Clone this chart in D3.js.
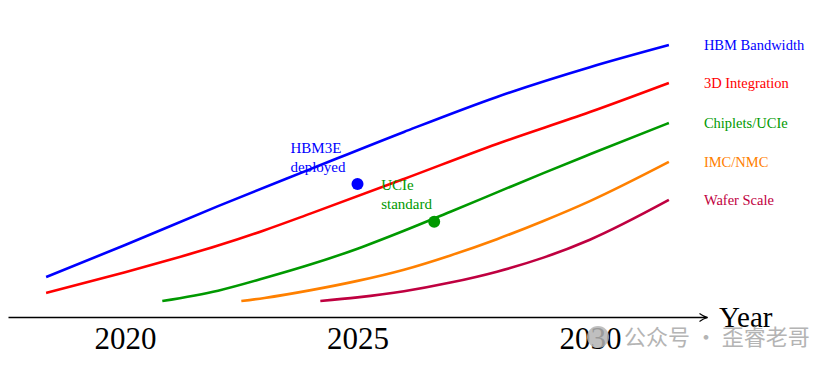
<!DOCTYPE html>
<html><head><meta charset="utf-8">
<script src="https://cdn.jsdelivr.net/npm/d3@7"></script>
<style>body{margin:0;background:#fff}svg{display:block}</style>
</head><body><svg id="c" width="840" height="371"></svg>
<script>
const tickYears = [2020, 2025, 2030];
const seriesNames = ["HBM Bandwidth", "3D Integration", "Chiplets/UCIe", "IMC/NMC", "Wafer Scale"];
const seriesColors = ["#0000ff", "#ff0000", "#009900", "#ff8000", "#bf0040"];
const hbmYears = [2018.3, 2020, 2022, 2024, 2026, 2028, 2030, 2031.7];
const hbmValues = [14.3, 25.7, 39.6, 52.9, 66.1, 78.6, 89.2, 97.1];
const d3iYears = [2018.3, 2020, 2021, 2022, 2023, 2024, 2026, 2028, 2030, 2031.7];
const d3iValues = [8.6, 16.0, 20.6, 25.5, 31.0, 37.0, 49.3, 61.8, 73.2, 83.6];
const chipYears = [2020.8, 2022, 2023, 2024, 2025, 2026, 2027, 2028, 2029, 2030, 2031.7];
const chipValues = [5.7, 9.4, 13.9, 18.8, 24.4, 30.8, 37.6, 44.5, 51.4, 58.1, 69.3];
const imcYears = [2022.5, 2023, 2024, 2025, 2026, 2027, 2028, 2029, 2030, 2031.7];
const imcValues = [5.7, 6.8, 9.6, 12.9, 16.9, 22.0, 27.8, 34.3, 41.4, 55.4];
const waferYears = [2024.2, 2025, 2026, 2027, 2028, 2029, 2030, 2031.7];
const waferValues = [5.7, 7.0, 9.2, 12.3, 16.2, 21.2, 27.6, 41.8];
const milestoneYears = [2025, 2026.65];
const milestoneValues = [47.5, 34.0];
const milestoneLabels = [["HBM3E", "deployed"], ["UCIe", "standard"]];
const milestoneSeries = [0, 2];

const svg = d3.select("#c");
const x = d3.scaleLinear().domain([2017.48, 2032.52]).range([8, 707]);
const y = d3.scaleLinear().domain([0, 100]).range([317, 37]);

const series = [
  [hbmYears, hbmValues], [d3iYears, d3iValues], [chipYears, chipValues],
  [imcYears, imcValues], [waferYears, waferValues]
].map(([ys, vs], i) => ({name: seriesNames[i], color: seriesColors[i],
  pts: ys.map((t, j) => ({t, v: vs[j]}))}));

svg.append("defs").append("marker").attr("id", "arr")
  .attr("viewBox", "0 0 10 10").attr("refX", 9).attr("refY", 5)
  .attr("markerWidth", 10).attr("markerHeight", 10).attr("markerUnits", "userSpaceOnUse")
  .attr("orient", "auto")
  .append("path").attr("d", "M1,1 Q5,4 9,5 Q5,6 1,9").attr("fill", "none")
  .attr("stroke", "#000").attr("stroke-width", 1.1);

const ax = svg.append("g").attr("transform", `translate(0,${y(0)})`)
  .call(d3.axisBottom(x).tickValues(tickYears).tickSize(0).tickSizeOuter(0).tickPadding(10).tickFormat(d3.format("d")));
ax.select(".domain").attr("stroke", "#000").attr("stroke-width", 1.3).attr("marker-end", "url(#arr)");
ax.selectAll(".tick text").attr("font-family", "Liberation Serif, Times New Roman, serif")
  .attr("font-size", 31).attr("fill", "#000").attr("dy", "0.71em");

svg.append("text").attr("x", x(2032.52) + 12).attr("y", y(0) + 10)
  .attr("font-family", "Liberation Serif, serif").attr("font-size", 29).text("Year");

const line = d3.line().x(d => x(d.t)).y(d => y(d.v)).curve(d3.curveMonotoneX);
svg.append("g").selectAll("path").data(series).join("path")
  .attr("d", d => line(d.pts)).attr("fill", "none")
  .attr("stroke", d => d.color).attr("stroke-width", 2.6);

svg.append("g").selectAll("text").data(series).join("text")
  .attr("x", d => x(d.pts[d.pts.length - 1].t) + 35)
  .attr("y", d => y(d.pts[d.pts.length - 1].v) + 5)
  .attr("fill", d => d.color).attr("font-family", "Liberation Serif, serif")
  .attr("font-size", 14.5).text(d => d.name);

const ms = milestoneYears.map((t, i) => ({t, v: milestoneValues[i], lab: milestoneLabels[i], c: seriesColors[milestoneSeries[i]]}));
svg.append("g").selectAll("circle").data(ms).join("circle")
  .attr("cx", d => x(d.t)).attr("cy", d => y(d.v)).attr("r", 6).attr("fill", d => d.c);
const offs = [[-67, -31], [-53, -32]];
ms.forEach((d, i) => {
  const tx = svg.append("text").attr("fill", d.c).attr("font-family", "Liberation Serif, serif").attr("font-size", 15)
    .attr("x", x(d.t) + offs[i][0]).attr("y", y(d.v) + offs[i][1]);
  d.lab.forEach((s, k) => tx.append("tspan").attr("x", x(d.t) + offs[i][0]).attr("dy", k ? 19 : 0).text(s));
});

svg.append("circle").attr("cx", 598).attr("cy", 337).attr("r", 11).attr("fill", "#b4b4b4").attr("opacity", 0.85);
svg.append("text").attr("x", 624).attr("y", 345).attr("font-family", "Noto Sans CJK SC, sans-serif")
  .attr("font-size", 22).attr("fill", "#b4b4b4").text("公众号 · 歪睿老哥");
</script></body></html>
